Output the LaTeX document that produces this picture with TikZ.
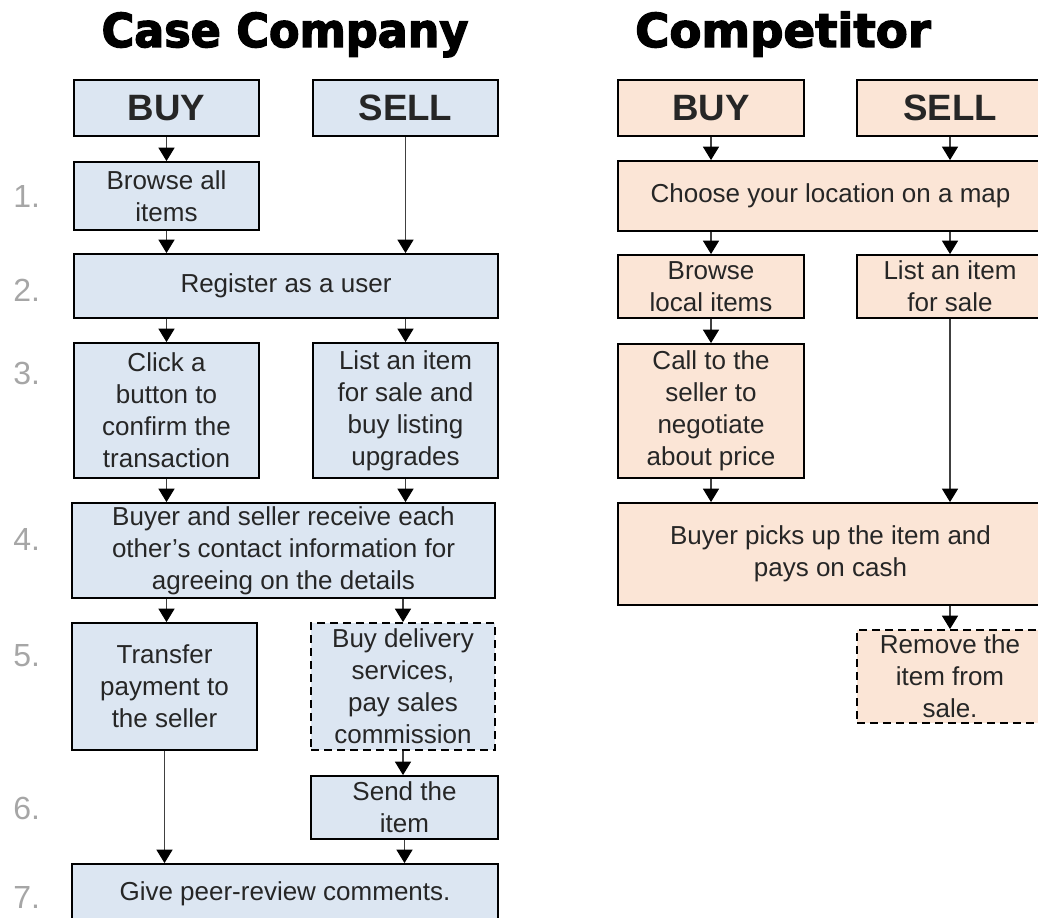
\documentclass[tikz,border=0pt]{standalone}
\usepackage{fontspec}
\setmainfont{Liberation Sans}
\newfontfamily\headfont{DejaVu Sans}[BoldFeatures={FakeBold=3}]
\usetikzlibrary{arrows.meta}
\definecolor{bluefill}{HTML}{DCE6F2}
\definecolor{peachfill}{HTML}{FBE5D6}
\definecolor{inkgray}{HTML}{262626}
\definecolor{stepgray}{HTML}{A6A6A6}
\definecolor{linegray}{HTML}{404040}
\newdimen\pxu \pxu=0.75pt
\begin{document}
\begin{tikzpicture}[x=0.75pt, y=-0.75pt,
  box/.style={draw=black, line width=1.4pt, inner sep=0pt, align=center,
    text=inkgray, font=\fontsize{19.5}{24}\selectfont},
  sz/.style 2 args={minimum width=#1\pxu, minimum height=#2\pxu},
  bluebox/.style={box, fill=bluefill},
  peachbox/.style={box, fill=peachfill},
  headbox/.style={font=\fontsize{27.5}{30}\selectfont\bfseries},
  optional/.style={dash pattern=on 6pt off 3.75pt},
  flow/.style={draw=linegray, line width=0.8pt,
    -{Triangle[width=12pt,length=10pt,color=black]}},
  stepnum/.style={anchor=west, inner sep=0pt, text=stepgray,
    font=\fontsize{24}{28}\selectfont},
  title/.style={anchor=base, inner sep=0pt,
    font=\headfont\bfseries\fontsize{35}{40}\selectfont}
]
\useasboundingbox (0,0) rectangle (1038,917);
\clip (0,0) rectangle (1038,917);

% ---------- headings ----------
\node[title] (ttlL) at (285,47) {\scalebox{0.953}[1]{Case Company}};
\node[title] (ttlR) at (783,47) {Competitor};

% ---------- step numbers ----------
\node[stepnum] (n1) at (13,196) {1.};
\node[stepnum] (n2) at (13,290) {2.};
\node[stepnum] (n3) at (13,373) {3.};
\node[stepnum] (n4) at (13,539) {4.};
\node[stepnum] (n5) at (13,656) {5.};
\node[stepnum] (n6) at (13,808) {6.};
\node[stepnum] (n7) at (13,897) {7.};

% ---------- case company ----------
\node[bluebox, headbox, sz={185}{56}] (lbuy)  at (166.5,108) {BUY};
\node[bluebox, headbox, sz={185}{56}] (lsell) at (405.5,108) {SELL};
\node[bluebox, sz={185}{68}]  (lbrowse) at (166.5,196) {Browse all\\items};
\node[bluebox, sz={424}{64}]  (lreg)    at (286,286) {Register as a user};
\node[bluebox, sz={185}{135}] (lclick)  at (166.5,410.5) {Click a\\button to\\confirm the\\transaction};
\node[bluebox, sz={185}{135}] (llist)   at (405.5,410.5) {List an item\\for sale and\\buy listing\\upgrades};
\node[bluebox, sz={423}{95}]  (linfo)   at (283.5,550.5) {Buyer and seller receive each\\other’s contact information for\\agreeing on the details};
\node[bluebox, sz={185}{127}] (lpay)    at (164.5,686.5) {Transfer\\payment to\\the seller};
\node[bluebox, optional, sz={184}{127}] (ldeliv) at (403,686.5) {Buy delivery\\services,\\pay sales\\commission};
\node[bluebox, sz={187}{63}]  (lsend)   at (404.5,807.5) {Send the\\item};
\node[bluebox, sz={426}{60}]  (lreview) at (285,894) {Give peer-review comments.};

\draw[flow] (lbuy.south) -- (lbrowse.north);
\draw[flow] (lsell.south) -- (lsell.south |- lreg.north);
\draw[flow] (lbrowse.south) -- (lbrowse.south |- lreg.north);
\draw[flow] (lclick.north |- lreg.south) -- (lclick.north);
\draw[flow] (llist.north |- lreg.south) -- (llist.north);
\draw[flow] (lclick.south) -- (lclick.south |- linfo.north);
\draw[flow] (llist.south) -- (llist.south |- linfo.north);
\draw[flow] (lclick.south |- linfo.south) -- (lclick.south |- lpay.north);
\draw[flow] (ldeliv.north |- linfo.south) -- (ldeliv.north);
\draw[flow] (ldeliv.south) -- (lsend.north -| ldeliv.south);
\draw[flow] (lpay.south) -- (lpay.south |- lreview.north);
\draw[flow] (lsend.south) -- (lsend.south |- lreview.north);

% ---------- competitor ----------
\node[peachbox, headbox, sz={186}{56}] (rbuy)  at (711,108) {BUY};
\node[peachbox, headbox, sz={186}{56}] (rsell) at (950,108) {SELL};
\node[peachbox, sz={425}{70}]  (rmap)    at (830.5,196) {Choose your location on a map};
\node[peachbox, sz={186}{63}]  (rbrowse) at (711,286.5) {Browse\\local items};
\node[peachbox, sz={186}{63}]  (rlist)   at (950,286.5) {List an item\\for sale};
\node[peachbox, sz={186}{134}] (rcall)   at (711,411) {Call to the\\seller to\\negotiate\\about price};
\node[peachbox, sz={425}{102}] (rpick)   at (830.5,554) {Buyer picks up the item and\\pays on cash};
\node[peachbox, optional, sz={186}{93}] (rremove) at (950,676.5) {Remove the\\item from\\sale.};

\draw[flow] (rbuy.south) -- (rbuy.south |- rmap.north);
\draw[flow] (rsell.south) -- (rsell.south |- rmap.north);
\draw[flow] (rbrowse.north |- rmap.south) -- (rbrowse.north);
\draw[flow] (rlist.north |- rmap.south) -- (rlist.north);
\draw[flow] (rbrowse.south) -- (rcall.north);
\draw[flow] (rcall.south) -- (rcall.south |- rpick.north);
\draw[flow] (rlist.south) -- (rlist.south |- rpick.north);
\draw[flow] (rremove.north |- rpick.south) -- (rremove.north);
\end{tikzpicture}
\end{document}
